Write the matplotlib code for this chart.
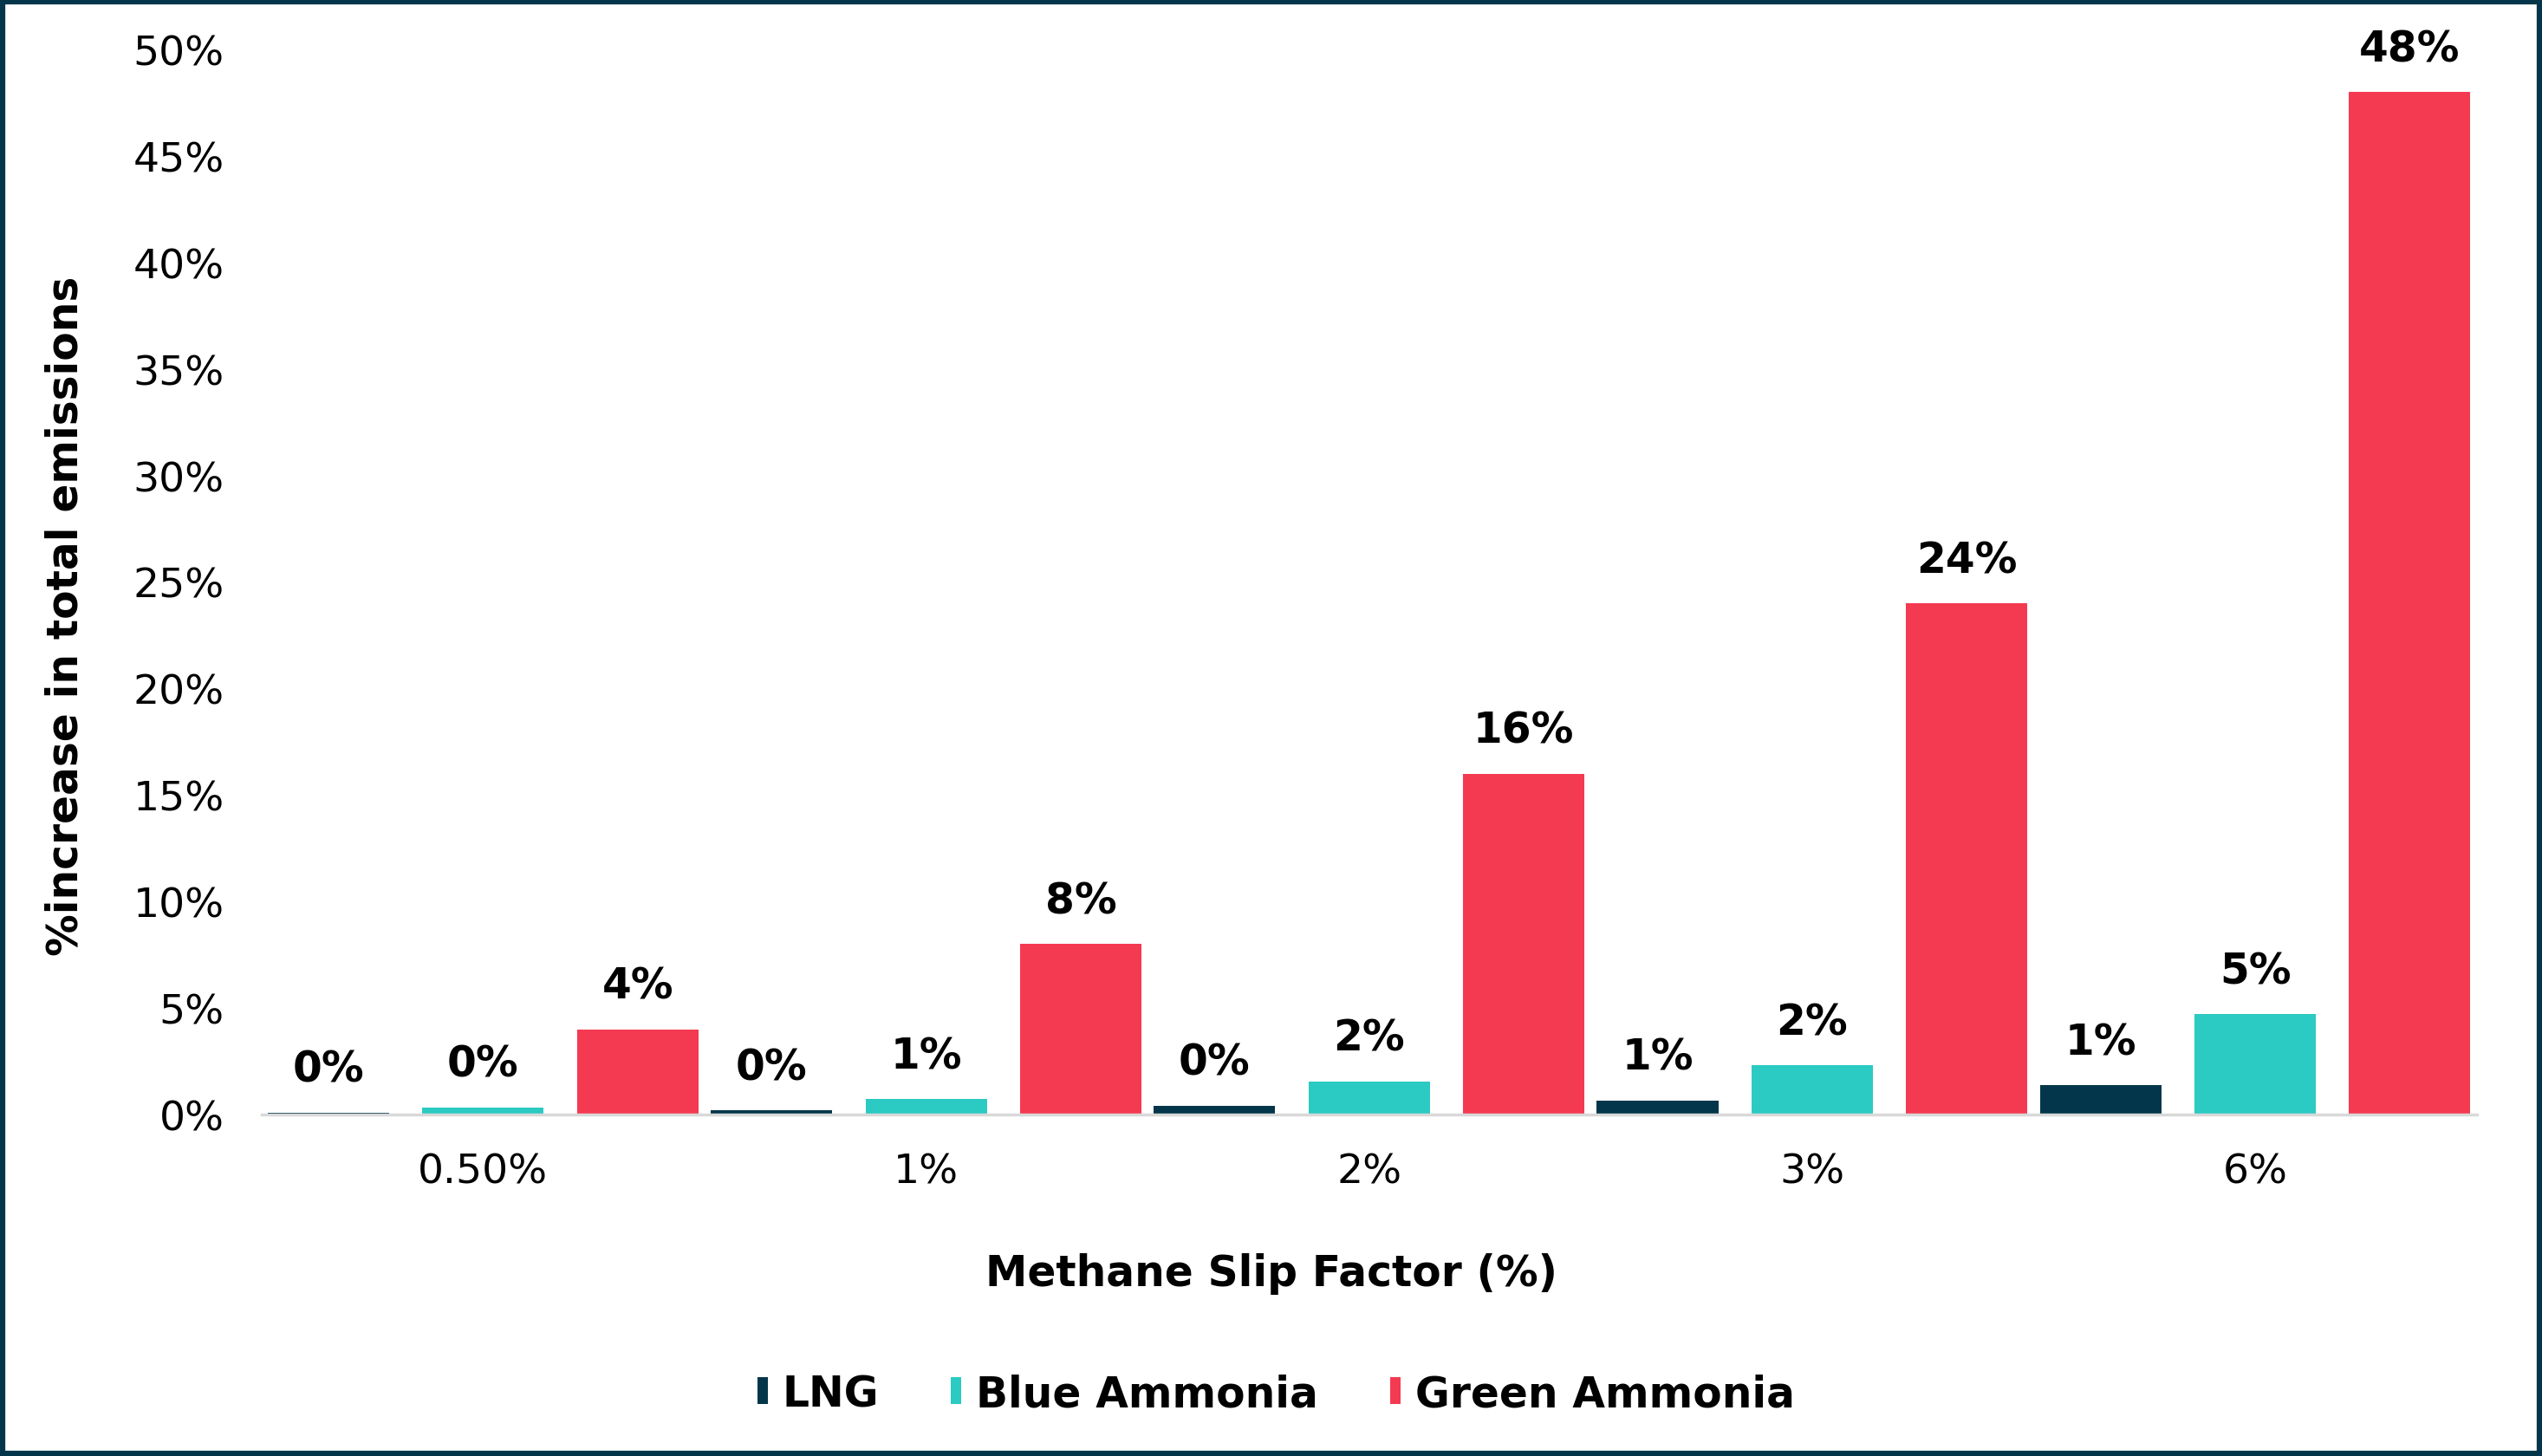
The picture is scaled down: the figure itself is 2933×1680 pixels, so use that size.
import matplotlib
matplotlib.use("Agg")
import matplotlib.pyplot as plt
import numpy as np
from matplotlib.patches import Rectangle

categories = ["0.50%", "1%", "2%", "3%", "6%"]
lng = [0.1, 0.2, 0.41, 0.65, 1.38]
blue_ammonia = [0.33, 0.73, 1.55, 2.3, 4.7]
green_ammonia = [4, 8, 16, 24, 48]

series = [("LNG", lng, "#03364A"),
          ("Blue Ammonia", blue_ammonia, "#2BCAC3"),
          ("Green Ammonia", green_ammonia, "#F43A51")]

plt.rcParams["font.family"] = ["DejaVu Sans"]

fig = plt.figure(figsize=(29.33, 16.81), dpi=100)
ax = fig.add_axes([0.1029, 0.2344, 0.9743 - 0.1029, 0.9655 - 0.2344])

x = np.arange(len(categories))
step = 0.349
width = 0.274
for i, (name, vals, color) in enumerate(series):
    pos = x + (i - 1) * step
    ax.bar(pos, vals, width=width, color=color, label=name, zorder=2)
    for xp, v in zip(pos, vals):
        ax.annotate(f"{v:.0f}%", (xp, v), xytext=(0, 36), textcoords="offset points",
                    ha="center", va="center", fontsize=35, fontweight="bold")

ax.set_xlim(-0.5, 4.5)
ax.set_ylim(0, 50)
ax.set_yticks(range(0, 51, 5))
ax.set_yticklabels([f"{t}%" for t in range(0, 51, 5)])
ax.set_xticks(x)
ax.set_xticklabels(categories)
ax.tick_params(axis="y", length=0, labelsize=34, pad=31)
ax.tick_params(axis="x", length=0, labelsize=34, pad=31)

for s in ["top", "right", "left"]:
    ax.spines[s].set_visible(False)
ax.spines["bottom"].set_color("#D9D9D9")
ax.spines["bottom"].set_linewidth(2.5)

fig.text(0.5, 0.1255, "Methane Slip Factor (%)", ha="center", va="center",
         fontsize=35, fontweight="bold")
fig.text(0.0256, 0.577, "%increase in total emissions", ha="center", va="center",
         rotation=90, fontsize=35, fontweight="bold")

fig.legend(loc="center", bbox_to_anchor=(0.502, 0.0428), ncol=3, frameon=False,
           prop={"size": 35, "weight": "bold"}, handlelength=0.25, handleheight=0.6,
           handletextpad=0.35, columnspacing=1.7)

fig.patches.append(Rectangle((0.001, 0.0015), 0.998, 0.997, transform=fig.transFigure,
                             fill=False, edgecolor="#03364A", linewidth=4.5))

fig.savefig("out.png", dpi=100)
